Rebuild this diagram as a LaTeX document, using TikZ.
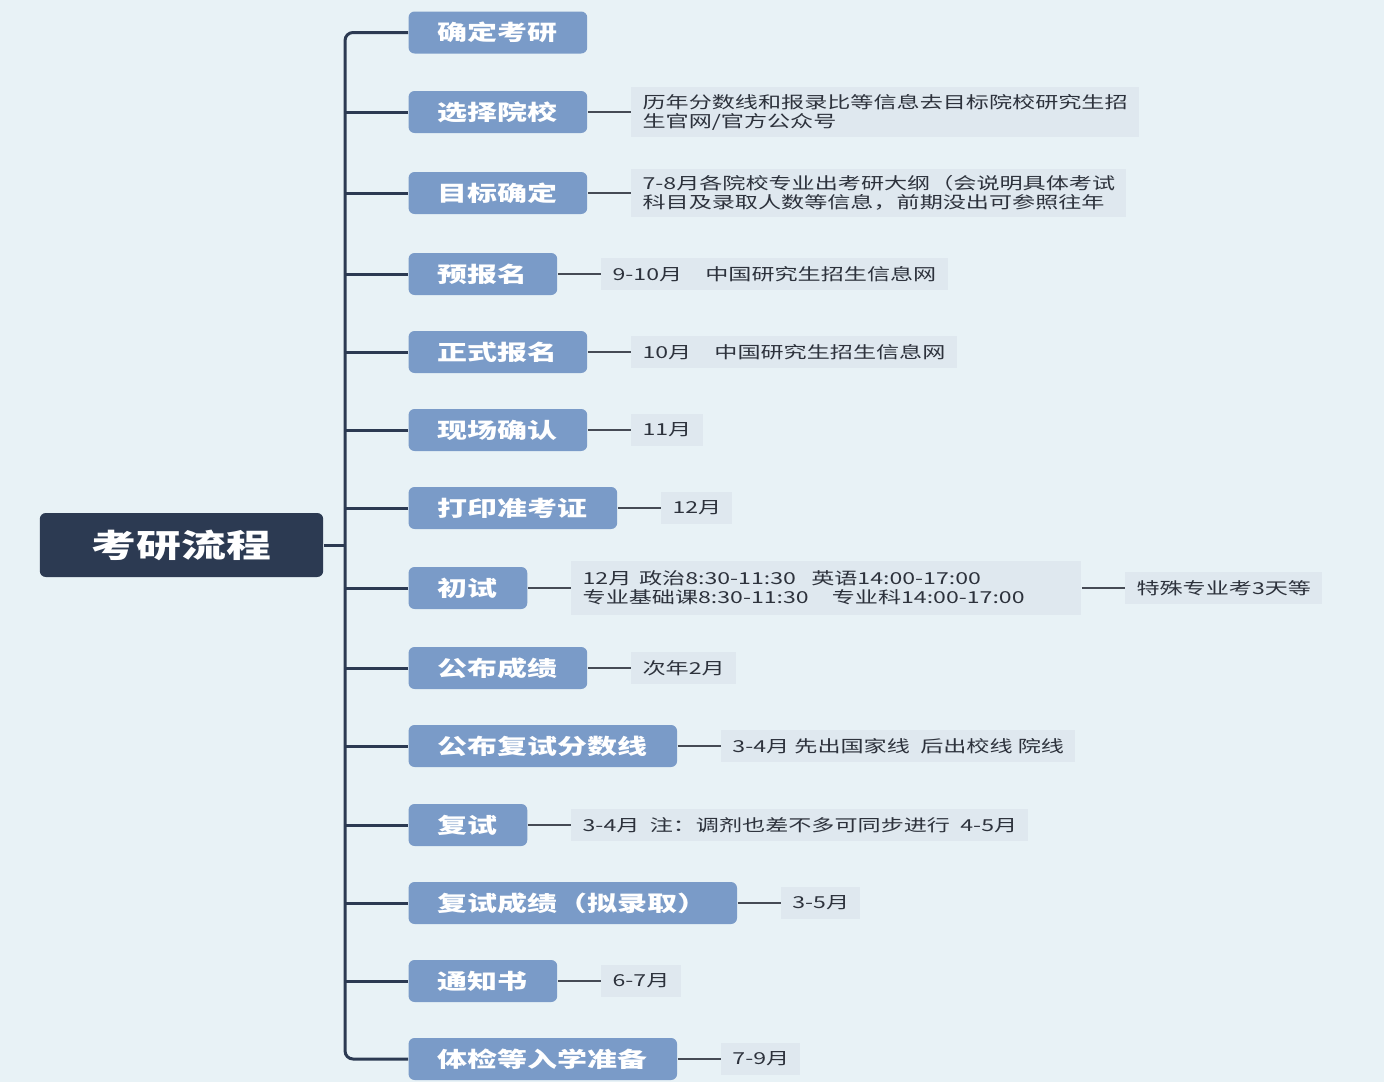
\documentclass[tikz,border=0pt]{standalone}
\usepackage{fontspec}
\setmainfont{Noto Sans CJK SC}
\usetikzlibrary{positioning}

\definecolor{canvas}{RGB}{232,242,246}
\definecolor{stageblue}{RGB}{122,155,200}
\definecolor{rootnavy}{RGB}{44,58,82}
\definecolor{notegray}{RGB}{223,232,239}
\definecolor{notetext}{RGB}{45,50,60}
\definecolor{twiggray}{RGB}{70,75,85}

\tikzset{
	root/.style={fill=rootnavy, text=white, rounded corners=3pt, font=\fontsize{16}{18}\selectfont\bfseries, inner xsep=18.6pt, minimum height=32pt},
	stage/.style={fill=stageblue, text=white, rounded corners=3pt, font=\fontsize{10.7}{13}\selectfont\bfseries, inner xsep=10.5pt, minimum height=21pt, anchor=west},
	note/.style={fill=notegray, text=notetext, font=\fontsize{8.25}{9.5}\selectfont, align=left, inner xsep=4pt, inner ysep=3.5pt, minimum height=16pt, right=43 of #1},
	spine/.style={draw=rootnavy, line width=1.5pt},
	twig/.style={draw=twiggray, line width=1pt}
}

\begin{document}
\begin{tikzpicture}[x=0.35714pt, y=-0.5pt, xscale=1.4, transform shape]
	\fill[canvas] (0,0) rectangle (1384,1082);
	\useasboundingbox (0,0) rectangle (1384,1082);

	% root
	\node[root] (kaoyan) at (181.5,545) {考研流程};

	% stages
	\node[stage] (s1) at (408,32.5) {确定考研};
	\node[stage] (s2) at (408,112) {选择院校};
	\node[stage] (s3) at (408,193) {目标确定};
	\node[stage] (s4) at (408,274) {预报名};
	\node[stage] (s5) at (408,352) {正式报名};
	\node[stage] (s6) at (408,430) {现场确认};
	\node[stage] (s7) at (408,508) {打印准考证};
	\node[stage] (s8) at (408,588) {初试};
	\node[stage] (s9) at (408,668) {公布成绩};
	\node[stage] (s10) at (408,746) {公布复试分数线};
	\node[stage] (s11) at (408,825) {复试};
	\node[stage] (s12) at (408,903) {复试成绩（拟录取）};
	\node[stage] (s13) at (408,981) {通知书};
	\node[stage] (s14) at (408,1059) {体检等入学准备};

	% spine
	\coordinate (hub) at (345,545);
	\draw[spine] (kaoyan.east) -- (hub);
	\draw[spine, rounded corners=4pt] (s1.west) -| (hub) |- (s14.west);
	\foreach \s in {s2,s3,s4,s5,s6,s7,s8,s9,s10,s11,s12,s13}
		\draw[spine] (hub |- \s.west) -- (\s.west);

	% notes
	\node[note=s2] (n2) {历年分数线和报录比等信息去目标院校研究生招\\生官网/官方公众号};
	\node[note=s3] (n3) {7-8月各院校专业出考研大纲（会说明具体考试\\科目及录取人数等信息，前期没出可参照往年};
	\node[note=s4] (n4) {9-10月\quad 中国研究生招生信息网};
	\node[note=s5] (n5) {10月\quad 中国研究生招生信息网};
	\node[note=s6] (n6) {11月};
	\node[note=s7] (n7) {12月};
	\node[note=s8, text width=174pt, inner ysep=5pt] (n8) {12月 政治8:30-11:30\ \ 英语14:00-17:00\\专业基础课8:30-11:30\quad 专业科14:00-17:00};
	\node[note=n8] (n8b) {特殊专业考3天等};
	\node[note=s9] (n9) {次年2月};
	\node[note=s10] (n10) {3-4月 先出国家线\ \ 后出校线 院线};
	\node[note=s11] (n11) {3-4月\ \ 注：调剂也差不多可同步进行\ \ 4-5月};
	\node[note=s12] (n12) {3-5月};
	\node[note=s13] (n13) {6-7月};
	\node[note=s14] (n14) {7-9月};

	\foreach \i in {2,...,14}
		\draw[twig] (s\i) -- (n\i);
	\draw[twig] (n8) -- (n8b);
\end{tikzpicture}
\end{document}
